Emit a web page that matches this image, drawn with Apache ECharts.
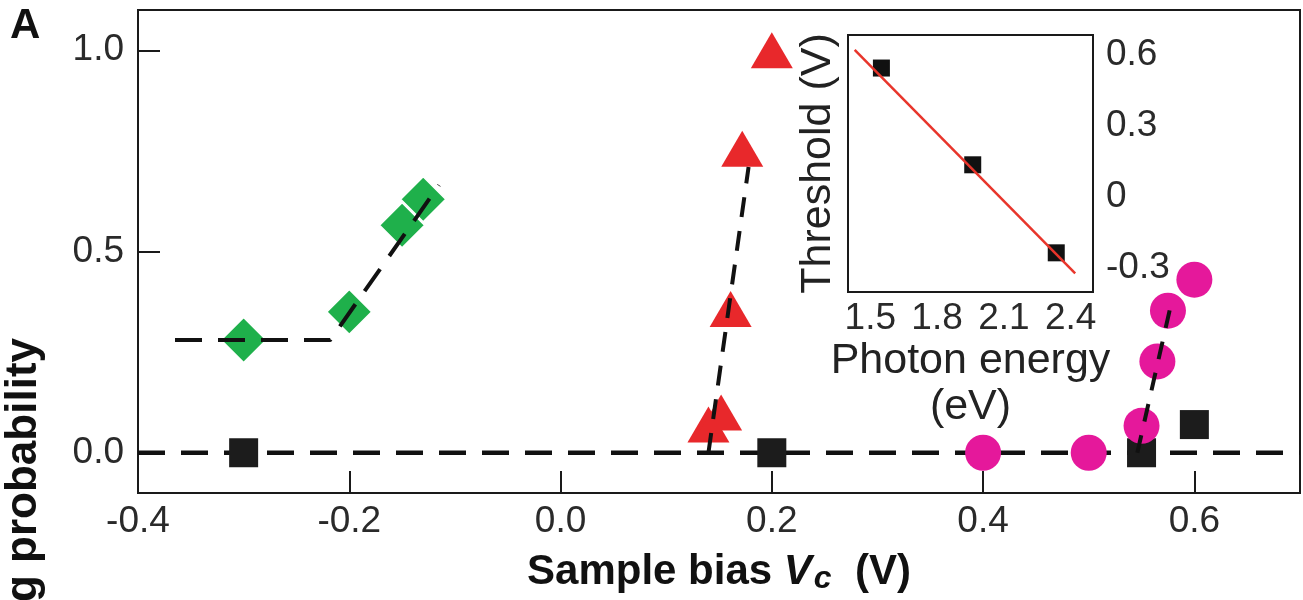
<!DOCTYPE html>
<html>
<head>
<meta charset="utf-8">
<script src="https://cdn.jsdelivr.net/npm/echarts@6/dist/echarts.min.js"></script>
<style>
html,body{margin:0;padding:0;background:#fff;}
#chart{width:1303px;height:600px;}
</style>
</head>
<body>
<div id="chart"></div>
<script>
// ---- data ----
const xTicks = [-0.4, -0.2, 0.0, 0.2, 0.4, 0.6];
const yTicks = [0.0, 0.5, 1.0];
const insetXTicks = [1.5, 1.8, 2.1, 2.4];
const insetYTicks = [-0.3, 0, 0.3, 0.6];

const squares   = [[-0.3, 0], [0.2, 0], [0.55, 0], [0.6, 0.07]];
const diamonds  = [[-0.3, 0.28], [-0.2, 0.35], [-0.15, 0.565], [-0.13, 0.63]];
const triangles = [[0.14, 0.07], [0.152, 0.1], [0.161, 0.357], [0.172, 0.755], [0.2, 1.0]];
const circles   = [[0.4, 0], [0.5, 0], [0.55, 0.067], [0.565, 0.227], [0.575, 0.353], [0.6, 0.43]];

const zeroFit    = [[-0.4, 0], [0.7, 0]];
const greenFit   = [[-0.365, 0.28], [-0.218, 0.28], [-0.115, 0.665]];
const redFit     = [[0.14, 0], [0.178, 0.71]];
const magentaFit = [[0.546, 0], [0.578, 0.37]];

const insetPoints = [[1.55, 0.545], [1.96, 0.135], [2.335, -0.238]];
const insetFit    = [[1.43, 0.622], [2.42, -0.325]];

// ---- style ----
const FONT = 'Liberation Sans, Arial, Helvetica, sans-serif';
const AX = '#1a1a1a';
const TXT = '#2a2a2a';
const dashed = (color, w) => ({color: color, width: w, type: [27, 16], cap: 'butt'});

const chart = echarts.init(document.getElementById('chart'), null, {renderer: 'canvas'});

const option = {
  backgroundColor: '#fff',
  animation: false,
  textStyle: {fontFamily: FONT},
  graphic: [
    {type: 'text', left: 10, top: 5, style: {text: 'A', font: 'bold 42px ' + FONT, fill: '#111'}},
    {type: 'text', x: 24, y: 338, rotation: Math.PI / 2,
     style: {text: 'Switching probability', font: 'bold 44px ' + FONT, fill: '#111',
             textAlign: 'right', textVerticalAlign: 'middle'}}
  ],
  grid: [
    {left: 138, top: 10, right: 3, bottom: 104, show: true, borderColor: AX, borderWidth: 2},
    {left: 848, top: 35, width: 245, height: 257, show: true, borderColor: AX, borderWidth: 2,
     backgroundColor: '#fff', z: 5}
  ],
  xAxis: [
    {type: 'value', gridIndex: 0, min: -0.4, max: 0.7,
     axisLine: {show: true, onZero: false, lineStyle: {color: AX, width: 2}},
     axisTick: {show: true, inside: true, length: 22, customValues: xTicks, lineStyle: {color: AX, width: 2}},
     axisLabel: {customValues: xTicks, margin: 10, fontSize: 37, color: TXT, fontFamily: FONT,
                 formatter: v => v.toFixed(1)},
     splitLine: {show: false},
     name: '{b|Sample bias }{i|V}{s|c}{b|  (V)}', nameLocation: 'middle', nameGap: 56,
     nameTextStyle: {rich: {
       b: {fontSize: 42, fontWeight: 'bold', color: '#111', fontFamily: FONT},
       i: {fontSize: 42, fontWeight: 'bold', fontStyle: 'italic', color: '#111', fontFamily: FONT},
       s: {fontSize: 32, fontWeight: 'bold', fontStyle: 'italic', color: '#111', fontFamily: FONT, padding: [14, 0, 0, 2]}
     }}},
    {type: 'value', gridIndex: 1, min: 1.4, max: 2.5,
     axisLine: {show: true, onZero: false, lineStyle: {color: AX, width: 2}},
     axisTick: {show: true, inside: true, length: 18, customValues: insetXTicks, lineStyle: {color: AX, width: 2}},
     axisLabel: {customValues: insetXTicks, margin: 8, fontSize: 37, color: TXT, fontFamily: FONT,
                 formatter: v => v.toFixed(1)},
     splitLine: {show: false},
     name: 'Photon energy\n(eV)', nameLocation: 'middle', nameGap: 40,
     nameTextStyle: {fontSize: 43, color: '#222', fontFamily: FONT, lineHeight: 46}}
  ],
  yAxis: [
    {type: 'value', gridIndex: 0, min: -0.1, max: 1.1,
     axisLine: {show: true, onZero: false, lineStyle: {color: AX, width: 2}},
     axisTick: {show: true, inside: true, length: 22, customValues: yTicks, lineStyle: {color: AX, width: 2}},
     axisLabel: {customValues: yTicks, margin: 14, fontSize: 37, color: TXT, fontFamily: FONT,
                 formatter: v => v.toFixed(1)},
     splitLine: {show: false}},
    {type: 'value', gridIndex: 1, min: -0.404, max: 0.685, position: 'left',
     axisLine: {show: true, onZero: false, lineStyle: {color: AX, width: 2}},
     axisTick: {show: true, inside: true, length: 18, customValues: insetYTicks, lineStyle: {color: AX, width: 2}},
     axisLabel: {show: false},
     splitLine: {show: false},
     name: 'Threshold (V)', nameLocation: 'middle', nameGap: 8, nameRotate: 90,
     nameTextStyle: {fontSize: 43, color: '#222', fontFamily: FONT}},
    {type: 'value', gridIndex: 1, min: -0.404, max: 0.685, position: 'right',
     axisLine: {show: true, onZero: false, lineStyle: {color: AX, width: 2}},
     axisTick: {show: true, inside: true, length: 18, customValues: insetYTicks, lineStyle: {color: AX, width: 2}},
     axisLabel: {customValues: insetYTicks, margin: 13, fontSize: 37, color: TXT, fontFamily: FONT,
                 formatter: v => (v === 0 ? '0' : v.toFixed(1))},
     splitLine: {show: false}}
  ],
  series: [
    {type: 'line', xAxisIndex: 0, yAxisIndex: 0, data: zeroFit, symbol: 'none', z: 1,
     lineStyle: dashed('#111', 4.5)},
    {type: 'scatter', xAxisIndex: 0, yAxisIndex: 0, data: squares, symbol: 'rect', symbolSize: 29, z: 2,
     itemStyle: {color: '#1c1c1c', opacity: 1}},
    {type: 'scatter', xAxisIndex: 0, yAxisIndex: 0, data: diamonds, symbol: 'diamond', symbolSize: [45, 45], z: 3,
     itemStyle: {color: '#1fb04b', borderColor: '#fff', borderWidth: 1.5, opacity: 1}},
    {type: 'scatter', xAxisIndex: 0, yAxisIndex: 0, data: triangles, symbol: 'triangle', symbolSize: [42, 36], z: 3,
     itemStyle: {color: '#e8282b', opacity: 1}},
    {type: 'scatter', xAxisIndex: 0, yAxisIndex: 0, data: circles, symbol: 'circle', symbolSize: 36, z: 3,
     itemStyle: {color: '#e5189b', opacity: 1}},
    {type: 'line', xAxisIndex: 0, yAxisIndex: 0, data: greenFit, symbol: 'none', z: 4,
     lineStyle: dashed('#111', 4)},
    {type: 'line', xAxisIndex: 0, yAxisIndex: 0, data: redFit, symbol: 'none', z: 4,
     lineStyle: {color: '#111', width: 4, type: [20, 14]}},
    {type: 'line', xAxisIndex: 0, yAxisIndex: 0, data: magentaFit, symbol: 'none', z: 4,
     lineStyle: {color: '#111', width: 4, type: [18, 14]}},
    {type: 'scatter', xAxisIndex: 1, yAxisIndex: 1, data: insetPoints, symbol: 'rect', symbolSize: 17, z: 6,
     itemStyle: {color: '#111', opacity: 1}},
    {type: 'line', xAxisIndex: 1, yAxisIndex: 1, data: insetFit, symbol: 'none', z: 7,
     lineStyle: {color: '#e8352b', width: 2.5}}
  ]
};
chart.setOption(option);
</script>
</body>
</html>
